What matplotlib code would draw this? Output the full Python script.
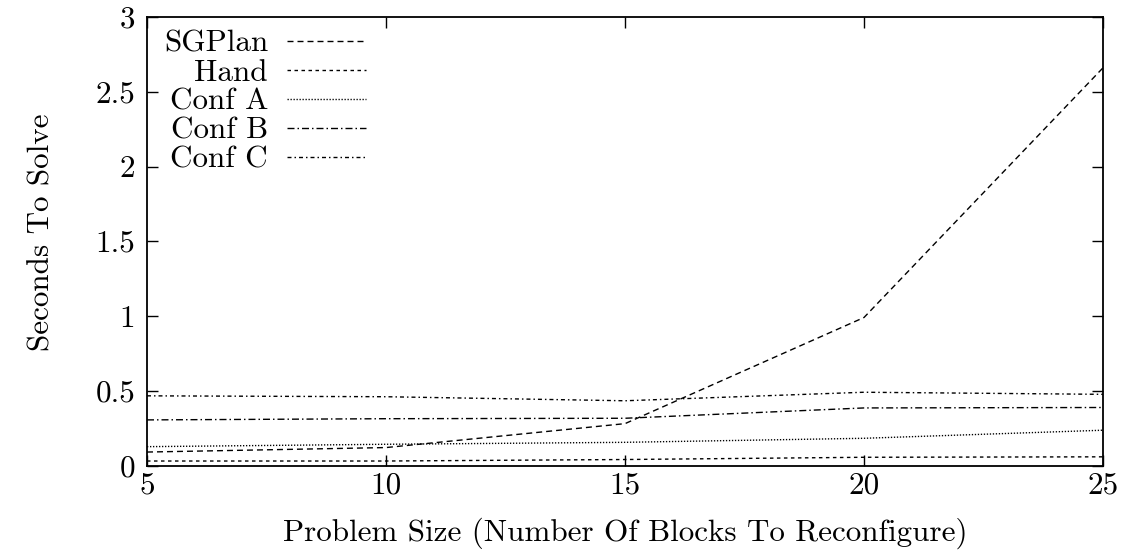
import matplotlib
matplotlib.use("Agg")
import matplotlib.pyplot as plt

# Problem sizes (number of blocks) and solve times in seconds
sizes = [5, 10, 15, 20, 25]
sgplan = [0.09, 0.12, 0.28, 0.99, 2.66]
hand = [0.03, 0.03, 0.04, 0.055, 0.058]
conf_a = [0.126, 0.142, 0.155, 0.182, 0.236]
conf_b = [0.305, 0.313, 0.316, 0.385, 0.388]
conf_c = [0.466, 0.46, 0.433, 0.49, 0.476]

series_names = ["SGPlan", "Hand", "Conf A", "Conf B", "Conf C"]
series_values = [sgplan, hand, conf_a, conf_b, conf_c]

x_ticks = [5, 10, 15, 20, 25]
y_ticks = [0, 0.5, 1, 1.5, 2, 2.5, 3]
y_tick_labels = ["0", "0.5", "1", "1.5", "2", "2.5", "3"]

px = 1 / 1.389  # one pixel in points at 100 dpi
dash_styles = [
    (0, (6 * px, 4 * px)),
    (0, (3.5 * px, 3.5 * px)),
    (0, (1.3 * px, 1.7 * px)),
    (0, (7 * px, 3 * px, 1.5 * px, 3 * px)),
    (0, (4 * px, 3 * px, 1.5 * px, 3 * px)),
]

plt.rcParams["font.family"] = ["cmr10", "DejaVu Serif"]
plt.rcParams["mathtext.fontset"] = "cm"
plt.rcParams["axes.formatter.use_mathtext"] = True

FS = 22.4
W, H = 1130, 558
fig = plt.figure(figsize=(W / 100, H / 100), dpi=100)
ax = fig.add_axes([147 / W, 1 - 465.5 / H, (1103 - 147) / W, (465.5 - 17) / H])

for vals, ls in zip(series_values, dash_styles):
    ax.plot(sizes, vals, color="black", linewidth=1.0, linestyle=ls)

ax.set_xlim(5, 25)
ax.set_ylim(0, 3)
ax.set_xticks(x_ticks)
ax.set_xticklabels([str(t) for t in x_ticks])
ax.set_yticks(y_ticks)
ax.set_yticklabels(y_tick_labels)
ax.tick_params(direction="in", length=8, width=1, top=True, right=True,
               labelsize=FS)
ax.tick_params(axis="x", pad=4.5)
ax.tick_params(axis="y", pad=8.5)
for sp in ax.spines.values():
    sp.set_linewidth(1.3)

ax.set_xlabel("Problem Size (Number Of Blocks To Reconfigure)", fontsize=FS)
ax.xaxis.label.set_va("center")
ax.xaxis.set_label_coords(0.5, (465.5 - 533) / 448.5)
ax.set_ylabel("Seconds To Solve", fontsize=FS)
ax.yaxis.label.set_va("center")
ax.yaxis.set_label_coords((42 - 147) / 956, (465.5 - 232) / 448.5)

# Key: right-aligned names followed by line samples
row_y = [41, 70, 99, 128, 157]
for name, ls, yp in zip(series_names, dash_styles, row_y):
    fy = 1 - yp / H
    fig.text(268 / W, fy, name, ha="right", va="center_baseline", fontsize=FS)
    fig.add_artist(plt.Line2D([287 / W, 366 / W], [fy, fy], color="black",
                              linewidth=1.0, linestyle=ls, transform=fig.transFigure))

fig.savefig("out.png", dpi=100)
